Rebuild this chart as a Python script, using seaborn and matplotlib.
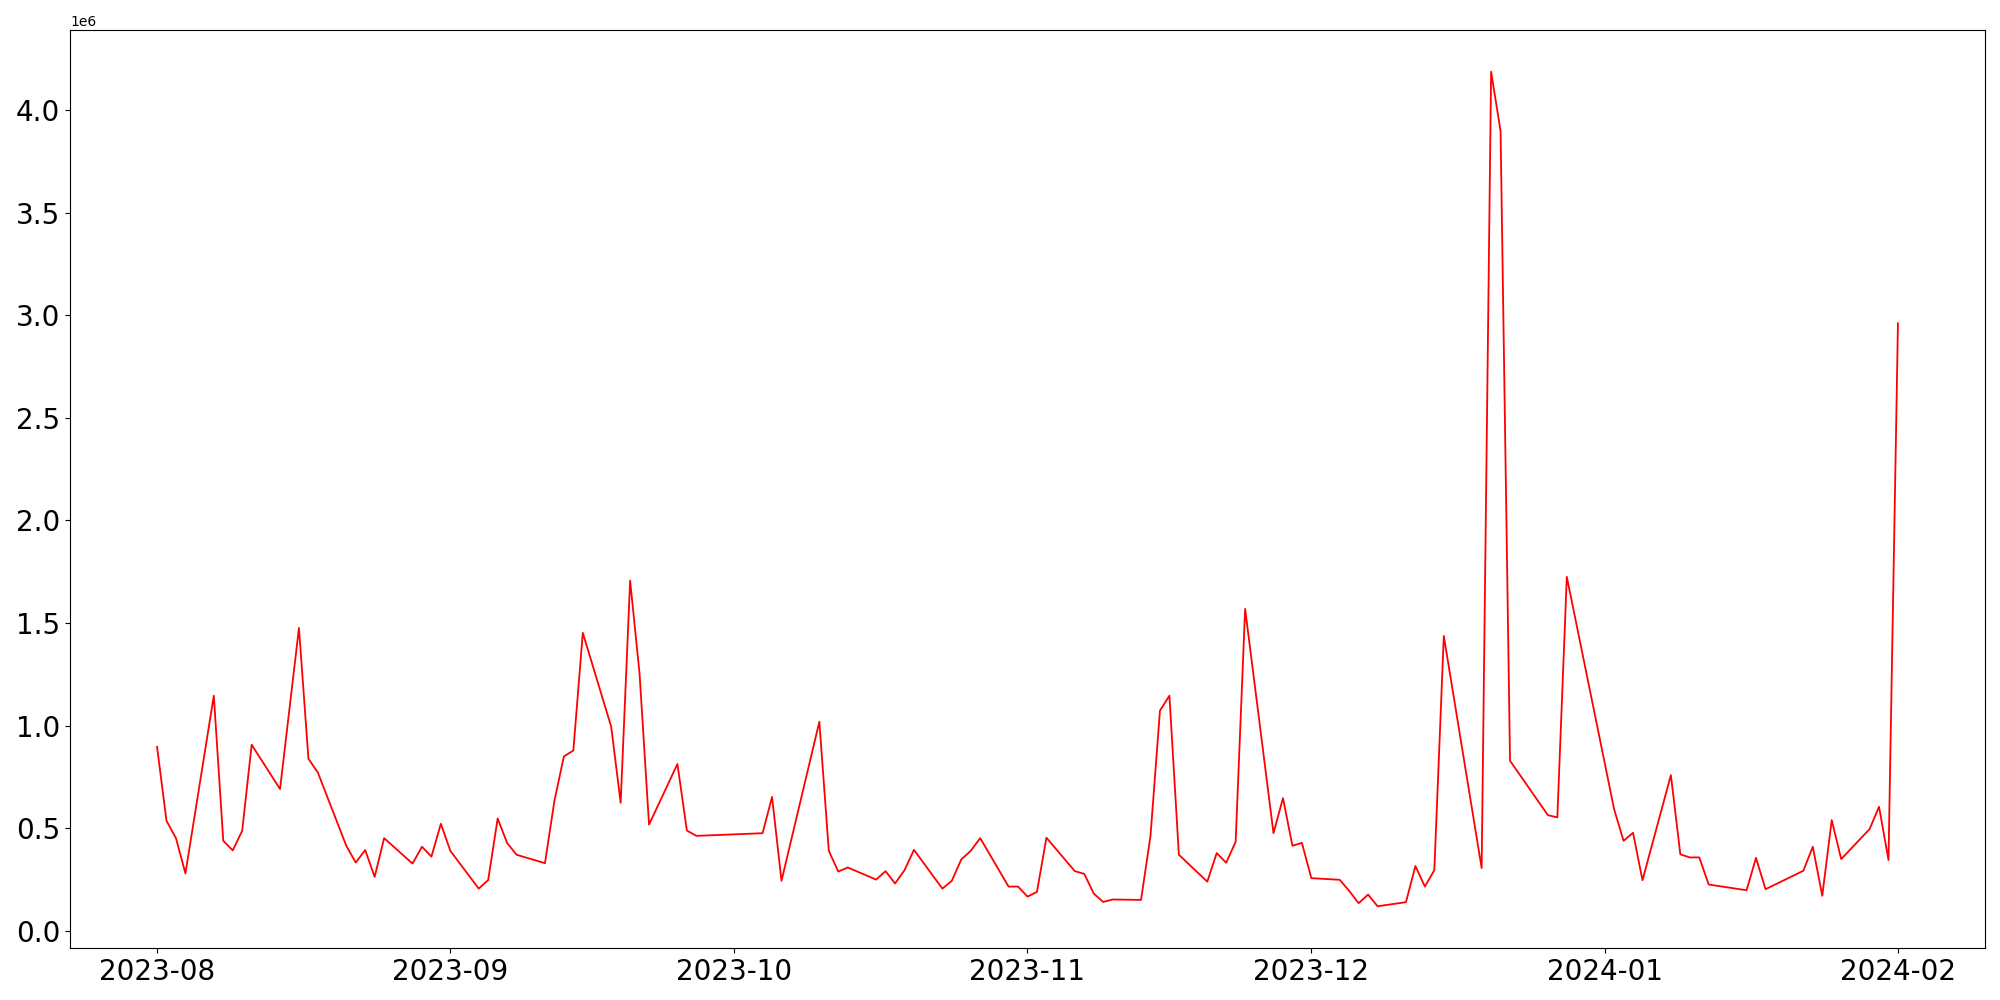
import numpy as np
import pandas as pd
import matplotlib
matplotlib.use('Agg')
import matplotlib.pyplot as plt
import seaborn as sns

# trading days; market holidays plus a few days with no data
skipped_days = ['2023-08-15', '2023-09-28', '2023-09-29', '2023-10-02', '2023-10-03',
                '2023-10-09', '2023-12-18', '2023-12-25', '2023-12-29', '2024-01-01',
                '2024-01-15', '2024-01-19']
dates = pd.bdate_range('2023-08-01', '2024-02-01', freq='C', holidays=skipped_days)

# values, in millions
aug = [0.897, 0.536, 0.452, 0.280, 1.146, 0.439, 0.392, 0.488, 0.907, 0.691, 1.476,
       0.839, 0.771, 0.415, 0.333, 0.394, 0.263, 0.452, 0.328, 0.410, 0.362, 0.522]
sep = [0.390, 0.206, 0.248, 0.548, 0.428, 0.371, 0.330, 0.634, 0.850, 0.879, 1.452,
       0.995, 0.624, 1.707, 1.252, 0.518, 0.813, 0.489, 0.463]
oct_ = [0.476, 0.653, 0.244, 1.019, 0.390, 0.289, 0.309, 0.250, 0.291, 0.231, 0.296,
        0.395, 0.206, 0.244, 0.348, 0.390, 0.452, 0.216, 0.216]
nov = [0.167, 0.190, 0.454, 0.291, 0.278, 0.182, 0.141, 0.153, 0.151, 0.463, 1.073,
       1.146, 0.371, 0.240, 0.379, 0.332, 0.434, 1.569, 0.476, 0.647, 0.415, 0.429]
dec = [0.257, 0.249, 0.195, 0.135, 0.177, 0.120, 0.140, 0.316, 0.216, 0.296, 1.437,
       0.306, 4.186, 3.897, 0.829, 0.564, 0.553, 1.725]
jan = [0.593, 0.439, 0.478, 0.247, 0.759, 0.373, 0.358, 0.358, 0.226, 0.198, 0.356,
       0.203, 0.293, 0.410, 0.171, 0.540, 0.350, 0.496, 0.605, 0.345]
feb = [2.960]

values = np.array(aug + sep + oct_ + nov + dec + jan + feb) * 1e6

df = pd.DataFrame({'date': dates, 'value': values})

fig, ax = plt.subplots(figsize=(20, 10), dpi=100)
sns.lineplot(data=df, x='date', y='value', color='red', linewidth=1.3, ax=ax)
ax.set_xlabel('')
ax.set_ylabel('')
ax.tick_params(axis='both', labelsize=20)
ax.yaxis.get_offset_text().set_fontsize(10)

plt.subplots_adjust(left=0.035, right=0.9925, top=0.97, bottom=0.052)
plt.savefig('out.png')
